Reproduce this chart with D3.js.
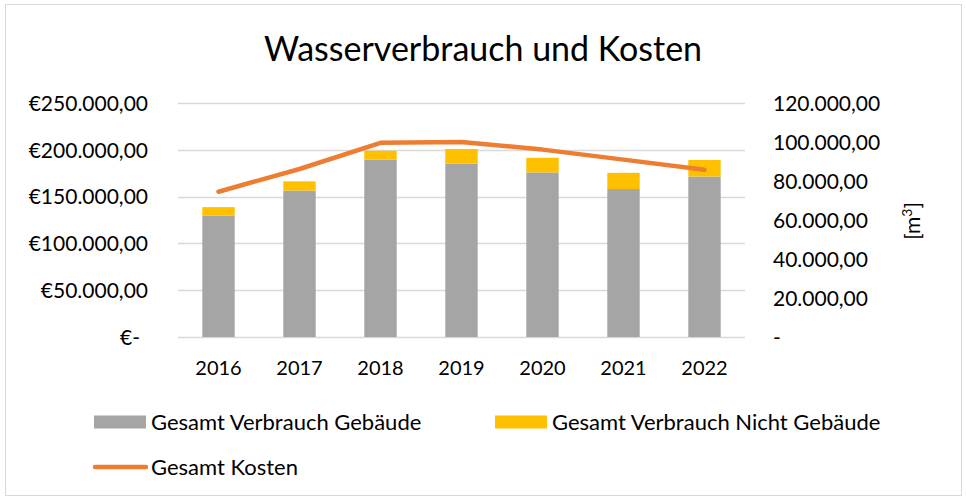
<!DOCTYPE html>
<html>
<head>
<meta charset="utf-8">
<script src="https://cdn.jsdelivr.net/npm/d3@7"></script>
<style>
  body { margin: 0; background: #fff; }
  svg text { font-family: Lato, "Open Sans", sans-serif; fill: #000; }
</style>
</head>
<body>
<div class="chart-container"></div>
<script>
// Data
const years = ['2016', '2017', '2018', '2019', '2020', '2021', '2022']
const verbrauchGebaeude = [62300, 75100, 90900, 88900, 84400, 75900, 82300]
const verbrauchNichtGebaeude = [4300, 4700, 4600, 7500, 7500, 8300, 8500]
const kosten = [155200, 179500, 207400, 208400, 200200, 189500, 178800]
const kostenTicks = [0, 50000, 100000, 150000, 200000, 250000]
const verbrauchTicks = [0, 20000, 40000, 60000, 80000, 100000, 120000]

const dims = {
    width: 966,
    height: 500,
    margin: { top: 103, bottom: 163, left: 178, right: 221 }
}

const colors = { gebaeude: '#A5A5A5', nicht: '#FFC000', kosten: '#ED7D31', grid: '#D9D9D9' }

const de = d3.formatLocale({ decimal: ',', thousands: '.', grouping: [3], currency: ['€', ''] })
const fmtEuro = d => d === 0 ? '€-' : de.format('$,.2f')(d)
const fmtNum = d => d === 0 ? '-' : de.format(',.2f')(d)

const svg = d3.select('.chart-container')
    .append('svg')
    .attr('width', dims.width)
    .attr('height', dims.height)

// chart frame
svg.append('rect')
    .attr('x', 5.5).attr('y', 4.5)
    .attr('width', 956).attr('height', 491)
    .attr('fill', '#fff')
    .attr('stroke', colors.grid)

const w = dims.width - dims.margin.left - dims.margin.right
const h = dims.height - dims.margin.top - dims.margin.bottom

const container = svg.append('g')
    .attr('transform', `translate(${dims.margin.left},${dims.margin.top})`)

const xScale = d3.scaleBand()
    .domain(years)
    .range([0, w])
    .paddingInner(0.6)
    .paddingOuter(0.3)

const yLeft = d3.scaleLinear().domain([0, 250000]).range([h, 0])
const yRight = d3.scaleLinear().domain([0, 120000]).range([h, 0])

// gridlines
container.append('g')
    .selectAll('line')
    .data(kostenTicks)
    .join('line')
    .attr('x1', 0).attr('x2', w)
    .attr('y1', d => Math.round(yLeft(d)) + 0.5)
    .attr('y2', d => Math.round(yLeft(d)) + 0.5)
    .attr('stroke', colors.grid)
    .attr('stroke-width', 1.3)

// left axis
const leftAxis = container.append('g')
    .call(d3.axisLeft(yLeft).tickValues(kostenTicks).tickFormat(fmtEuro).tickSize(0).tickPadding(30))
leftAxis.select('.domain').remove()
leftAxis.selectAll('text')
    .attr('font-size', '21px')
    .attr('dy', '0.35em')
    .attr('x', d => d === 0 ? -38 : -30)

// right axis
const rightAxis = container.append('g')
    .attr('transform', `translate(${w},0)`)
    .call(d3.axisRight(yRight).tickValues(verbrauchTicks).tickFormat(fmtNum).tickSize(0).tickPadding(28))
rightAxis.select('.domain').remove()
rightAxis.selectAll('text')
    .attr('font-size', '21px')
    .attr('dy', '0.35em')

// x axis
const xAxis = container.append('g')
    .attr('transform', `translate(0,${h})`)
    .call(d3.axisBottom(xScale).tickSize(0).tickPadding(24))
xAxis.select('.domain').remove()
xAxis.selectAll('text')
    .attr('font-size', '20px')

// right axis label
container.append('text')
    .attr('transform', `translate(${w + 168},${h / 2 + 1}) rotate(-90)`)
    .attr('text-anchor', 'middle')
    .attr('dy', '0.35em')
    .attr('font-size', '21px')
    .html('[m<tspan dy="-8" font-size="14px">3</tspan><tspan dy="8">]</tspan>')

// stacked bars
const rows = years.map((y, i) => ({ year: y, gebaeude: verbrauchGebaeude[i], nicht: verbrauchNichtGebaeude[i] }))
const stack = d3.stack().keys(['gebaeude', 'nicht'])(rows)

container.selectAll('g.series')
    .data(stack)
    .join('g')
    .attr('class', 'series')
    .attr('fill', d => colors[d.key])
    .selectAll('rect')
    .data(d => d)
    .join('rect')
    .attr('x', d => xScale(d.data.year))
    .attr('y', d => yRight(d[1]))
    .attr('width', xScale.bandwidth())
    .attr('height', d => yRight(d[0]) - yRight(d[1]))

// line
const line = d3.line()
    .x((d, i) => xScale(years[i]) + xScale.bandwidth() / 2)
    .y(d => yLeft(d))

container.append('path')
    .datum(kosten)
    .attr('d', line)
    .attr('fill', 'none')
    .attr('stroke', colors.kosten)
    .attr('stroke-width', 4.5)
    .attr('stroke-linecap', 'round')
    .attr('stroke-linejoin', 'round')

// Title
svg.append('text')
    .attr('x', 483)
    .attr('y', 61)
    .attr('text-anchor', 'middle')
    .attr('font-size', '34px')
    .text('Wasserverbrauch und Kosten')

// Legend
const legend = svg.append('g')
const legendItems = [
    { label: 'Gesamt Verbrauch Gebäude', color: colors.gebaeude, type: 'rect', x: 94, y: 422 },
    { label: 'Gesamt Verbrauch Nicht Gebäude', color: colors.nicht, type: 'rect', x: 495, y: 422 },
    { label: 'Gesamt Kosten', color: colors.kosten, type: 'line', x: 94, y: 467 }
]
legendItems.forEach(item => {
    if (item.type === 'rect') {
        legend.append('rect')
            .attr('x', item.x).attr('y', item.y - 6.5)
            .attr('width', 52).attr('height', 13)
            .attr('fill', item.color)
    } else {
        legend.append('line')
            .attr('x1', item.x + 1).attr('x2', item.x + 52)
            .attr('y1', item.y).attr('y2', item.y)
            .attr('stroke', item.color)
            .attr('stroke-width', 4.5)
            .attr('stroke-linecap', 'round')
    }
    legend.append('text')
        .attr('x', item.x + 57)
        .attr('y', item.y)
        .attr('dy', '0.35em')
        .attr('font-size', '22px')
        .text(item.label)
})
</script>
</body>
</html>
